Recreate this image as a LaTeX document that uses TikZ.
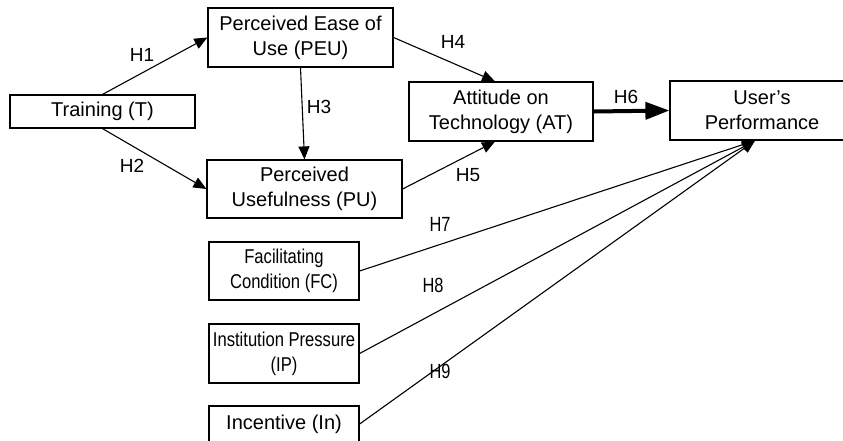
\documentclass[tikz,border=0pt]{standalone}
\usepackage{fontspec}
\setmainfont{Liberation Sans}
\usetikzlibrary{arrows.meta}
\begin{document}
\begin{tikzpicture}[x=1pt,y=-1pt,
  box/.style={draw,line width=1.2pt,inner sep=0pt,align=center,
    font=\fontsize{20}{25}\selectfont},
  conn/.style={line width=1.1pt,-{Triangle[length=13pt,width=11pt]}},
  thickconn/.style={line width=4pt,-{Triangle[length=24pt,width=17pt]}},
  hlab/.style={inner sep=0pt,font=\fontsize{19}{22}\selectfont},
  sq/.style={inner sep=0pt,font=\fontsize{20.5}{22}\selectfont}
]
\useasboundingbox (0,0) rectangle (843,440);
\node[box,minimum width=185pt,minimum height=33pt] (T) at (102.5,111.5) {Training (T)};
\node[box,minimum width=185pt,minimum height=59pt] (PEU) at (300.5,37.5) {Perceived Ease of\\Use (PEU)};
\node[box,minimum width=195pt,minimum height=58pt] (PU) at (304.5,189) {Perceived\\Usefulness (PU)};
\node[box,minimum width=184pt,minimum height=59pt] (AT) at (501,111.5) {Attitude on\\Technology (AT)};
\node[box,minimum width=184pt,minimum height=59pt] (UP) at (762,110.5) {User’s\\Performance};
\node[box,minimum width=150pt,minimum height=58pt] (FC) at (284,271) {\scalebox{0.83}[1]{Facilitating}\\\scalebox{0.83}[1]{Condition (FC)}};
\node[box,minimum width=150pt,minimum height=59pt] (IP) at (284,353.5) {\scalebox{0.83}[1]{Institution Pressure}\\\scalebox{0.83}[1]{(IP)}};
\node[box,minimum width=150pt,minimum height=36pt] (In) at (284,424) {Incentive (In)};

\coordinate (ATtop) at ([xshift=-6pt]AT.north);
\coordinate (ATbot) at ([xshift=-6pt]AT.south);
\coordinate (UPin) at ([xshift=-7pt]UP.south);

\draw[conn] (T.north) -- (PEU.west);
\draw[conn] (T.south) -- (PU.west);
\draw[conn] (PEU.south) -- (PU.north);
\draw[conn] (PEU.east) -- (ATtop);
\draw[conn] (PU.east) -- (ATbot);
\draw[thickconn] (AT.east) -- (UP.west);
\draw[conn] (FC.east) -- (UPin);
\draw[conn] (IP.east) -- (UPin);
\draw[conn] (In.east) -- (UPin);

\node[hlab] (h1) at (142,55) {H1};
\node[hlab] (h2) at (132,166) {H2};
\node[hlab] (h3) at (319,107) {H3};
\node[hlab] (h4) at (453,42) {H4};
\node[hlab] (h5) at (468,175) {H5};
\node[hlab] (h6) at (626,97) {H6};
\node[sq] (h7) at (440,224) {\scalebox{0.8}[1]{H7}};
\node[sq] (h8) at (433,285) {\scalebox{0.8}[1]{H8}};
\node[sq] (h9) at (440,371) {\scalebox{0.8}[1]{H9}};
\end{tikzpicture}
\end{document}
